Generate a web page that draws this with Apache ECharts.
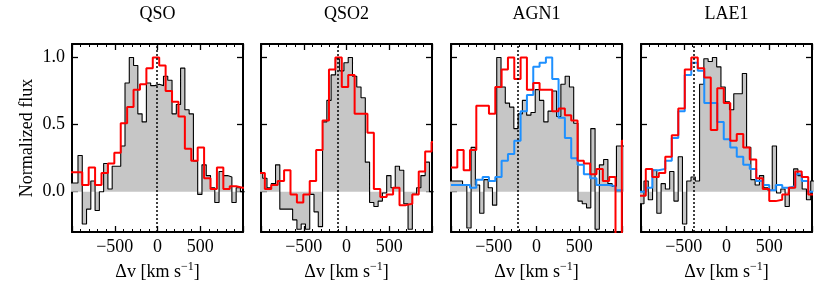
<!DOCTYPE html>
<html><head><meta charset="utf-8">
<script src="https://cdn.jsdelivr.net/npm/echarts@6/dist/echarts.min.js"></script>
<style>html,body{margin:0;padding:0;background:#fff}#c{width:830px;height:302px}</style>
</head><body><div id="c"></div>
<script>
// ---------------- data ----------------
const panelTitles = ['QSO', 'QSO2', 'AGN1', 'LAE1'];
const systemicVel = [-10, -105, -225, -380];
const yTickValues = [0, 0.5, 1.0];
const xTickInterval = 500;
const xRange = [-1000, 1000];
const yRange = [-0.3, 1.1];

// observed (gray) spectra: bin start velocity, bin width, values
const obsStart = [-1030, -1030, -1015, -1015];
const obsWidth = [50, 50, 50, 50];
const obsQSO = [0.065,0.065,0.27,-0.24,-0.13,0.08,-0.14,0.0,0.21,0.02,0.19,0.19,0.34,0.81,1.0,0.94,0.58,0.52,0.81,0.79,0.80,0.79,0.86,0.83,0.58,0.65,0.92,0.61,0.58,0.23,-0.02,0.20,0.12,0.03,-0.08,0.15,0.12,0.11,-0.08,0.03,0.0];
const obsQSO2 = [0.14,0.10,0.03,0.06,0.20,-0.13,-0.13,-0.13,-0.21,-0.28,-0.24,-0.28,-0.02,-0.15,-0.26,0.52,0.68,0.87,0.99,0.90,0.96,1.0,0.86,0.78,0.70,0.22,-0.08,-0.11,-0.07,-0.01,0.12,0.03,0.19,0.16,-0.09,-0.28,-0.02,0.03,0.12,0.22,0.0];
const obsAGN1 = [0.08,0.08,0.08,0.05,-0.27,0.33,0.05,-0.16,0.09,0.03,-0.10,1.0,0.78,0.66,0.63,0.47,0.58,0.68,0.57,0.59,0.76,0.68,0.52,0.60,0.75,0.56,0.80,0.86,0.78,0.51,-0.07,-0.09,-0.12,0.47,-0.28,0.20,0.24,0.06,0.04,0.34,0.34];
const obsLAE1 = [-0.09,0.08,-0.06,0.16,-0.16,0.06,0.02,0.15,-0.07,0.26,-0.24,0.08,0.11,0.08,0.80,0.99,0.97,1.0,0.93,0.78,0.67,0.61,0.73,0.73,0.88,0.33,0.09,0.05,0.12,0.03,0.01,0.34,-0.01,0.02,-0.11,0.03,0.17,0.12,0.02,-0.06,0.08];

// comparison (red) spectra
const redStart = [-1030, -1030, -1000, -1020];
const redWidth = [75, 75, 74, 76];
const redQSO = [0.145,0.145,0.05,0.18,0.05,0.14,0.21,0.29,0.51,0.63,0.76,0.80,0.92,1.0,0.94,0.75,0.67,0.56,0.32,0.23,0.33,0.10,0.02,0.18,0.02,0.04,0.03,0.03];
const redQSO2 = [0.14,0.02,0.05,0.08,0.16,-0.02,-0.08,-0.02,0.08,0.31,0.53,0.91,1.0,0.78,0.87,0.58,0.58,0.44,0.02,-0.04,-0.02,0.03,-0.10,-0.09,-0.02,0.15,0.30,0.37];
const redAGN1 = [0.18,0.31,0.16,0.31,0.64,0.64,0.58,0.78,0.91,1.0,0.84,1.0,0.76,0.81,0.76,0.76,0.60,0.62,0.57,0.53,0.23,0.21,0.13,0.17,0.08,0.11,-0.5,0.38];
const redLAE1 = [-0.03,0.17,0.11,0.14,0.26,0.42,0.62,0.91,1.0,0.92,0.85,0.46,0.77,0.66,0.38,0.43,0.33,0.24,0.10,0.02,-0.07,-0.06,-0.02,0.03,0.15,0.11,-0.02];

// blue spectra (AGN1, LAE1 only)
const blueStart = [null, null, -1000, -1020];
const blueWidth = [null, null, 74, 76];
const blueAGN1 = [0.05,0.05,0.05,0.03,0.09,0.11,0.08,0.11,0.23,0.28,0.38,0.60,0.72,0.93,0.96,1.0,0.84,0.55,0.40,0.25,0.20,0.13,0.10,0.05,0.05,0.04,0.01,0.01];
const blueLAE1 = [0.0,0.03,0.16,0.17,0.23,0.40,0.60,0.87,0.96,0.90,0.66,0.66,0.52,0.39,0.33,0.26,0.20,0.17,0.08,0.05,0.01,0.05,0.03,0.04,0.13,0.08,0.0];

const obsSets = [obsQSO, obsQSO2, obsAGN1, obsLAE1];
const redSets = [redQSO, redQSO2, redAGN1, redLAE1];
const blueSets = [null, null, blueAGN1, blueLAE1];

// ---------------- layout / style ----------------
const FONT = '"Liberation Serif", "DejaVu Serif", serif';
const GL = [72, 261, 451, 641];
const GW = 171, GT = 39, GH = 193;

function steps(start, width, vals) {
  const pts = [];
  for (let i = 0; i < vals.length; i++) pts.push([start + i * width, vals[i]]);
  pts.push([start + vals.length * width, vals[vals.length - 1]]);
  return pts;
}

const grids = [], xAxes = [], yAxes = [], series = [];
const lineAx = { onZero: false, lineStyle: { color: '#000', width: 2 } };
const tickAx = { inside: true, length: 6, lineStyle: { color: '#000', width: 1.3 } };
const minorAx = { show: true, splitNumber: 5, length: 3, lineStyle: { color: '#000', width: 1 } };
const xName = '{t|Δv [km s}{s|−1}{t|]}';
const xNameStyle = {
  rich: {
    t: { fontFamily: FONT, fontSize: 18, color: '#000', lineHeight: 22, verticalAlign: 'middle' },
    s: { fontFamily: FONT, fontSize: 12, color: '#000', lineHeight: 22, verticalAlign: 'top' }
  }
};

for (let i = 0; i < 4; i++) {
  grids.push({ left: GL[i], top: GT, width: GW, height: GH, containLabel: false });
  xAxes.push({
    gridIndex: i, type: 'value', position: 'bottom', min: xRange[0], max: xRange[1], interval: xTickInterval,
    axisLine: lineAx, axisTick: tickAx, minorTick: minorAx, splitLine: { show: false },
    axisLabel: { showMinLabel: false, showMaxLabel: false, margin: 6, color: '#000', fontFamily: FONT, fontSize: 18,
      formatter: v => String(v).replace('-', '\u2212') },
    name: xName, nameLocation: 'middle', nameGap: 28, nameTextStyle: xNameStyle
  });
  xAxes.push({
    gridIndex: i, type: 'value', position: 'top', min: xRange[0], max: xRange[1], interval: xTickInterval,
    axisLine: lineAx, axisTick: tickAx, minorTick: minorAx, splitLine: { show: false },
    axisLabel: { show: false },
    name: panelTitles[i], nameLocation: 'middle', nameGap: 21,
    nameTextStyle: { fontFamily: FONT, fontSize: 18, color: '#000' }
  });
  yAxes.push({
    gridIndex: i, type: 'value', position: 'left', min: yRange[0], max: yRange[1],
    axisLine: lineAx, axisTick: Object.assign({}, tickAx, { customValues: yTickValues }), splitLine: { show: false },
    axisLabel: { show: i === 0, customValues: yTickValues, margin: 7, color: '#000', fontFamily: FONT, fontSize: 18,
      formatter: v => Number(v).toFixed(1) },
    name: i === 0 ? 'Normalized flux' : '', nameLocation: 'middle', nameGap: 36, nameRotate: 90,
    nameTextStyle: { fontFamily: FONT, fontSize: 18, color: '#000' }
  });
  yAxes.push({
    gridIndex: i, type: 'value', position: 'right', min: yRange[0], max: yRange[1],
    axisLine: lineAx, axisTick: Object.assign({}, tickAx, { customValues: yTickValues }), splitLine: { show: false },
    axisLabel: { show: false, customValues: yTickValues }
  });

  series.push({
    type: 'line', step: 'end', xAxisIndex: 2 * i, yAxisIndex: 2 * i, symbol: 'none', z: 2,
    data: steps(obsStart[i], obsWidth[i], obsSets[i]),
    lineStyle: { color: '#000', width: 1.1 },
    areaStyle: { color: '#c6c6c6', opacity: 1 },
    markLine: {
      silent: true, symbol: ['none', 'none'], label: { show: false }, z: 5,
      lineStyle: { color: '#000', type: [2, 2], width: 1.5 },
      data: [{ xAxis: systemicVel[i] }]
    }
  });
  if (blueSets[i]) {
    series.push({
      type: 'line', step: 'end', xAxisIndex: 2 * i, yAxisIndex: 2 * i, symbol: 'none', z: 3,
      data: steps(blueStart[i], blueWidth[i], blueSets[i]),
      lineStyle: { color: '#1e90ff', width: 2 }
    });
  }
  series.push({
    type: 'line', step: 'end', xAxisIndex: 2 * i, yAxisIndex: 2 * i, symbol: 'none', z: 4,
    data: steps(redStart[i], redWidth[i], redSets[i]),
    lineStyle: { color: '#ff0000', width: 2 }
  });
}

const chart = echarts.init(document.getElementById('c'));
chart.setOption({
  animation: false,
  backgroundColor: '#fff',
  grid: grids, xAxis: xAxes, yAxis: yAxes, series: series
});
</script>
</body></html>
